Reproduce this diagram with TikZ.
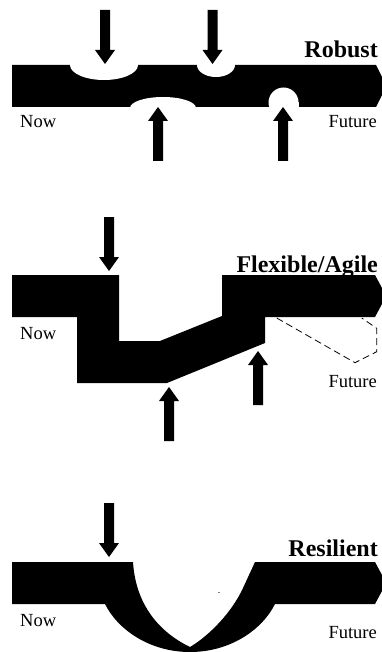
\documentclass[tikz,border=0pt]{standalone}
\usepackage{fontspec}
\setmainfont{Liberation Serif}
\tikzset{
  band/.style={fill=black},
  cut/.style={fill=white},
  title/.style={font=\fontsize{24}{24}\selectfont\bfseries, inner sep=0pt, anchor=base east},
  tag/.style={font=\fontsize{18.5}{18.5}\selectfont, inner sep=0pt},
  future/.style={draw=black, line width=0.8pt, dash pattern=on 7pt off 4pt},
  blockarrow/.pic={
    \fill[black] (0,0) -- (-10,-14) -- (-5,-14) -- (-5,-54) -- (5,-54) -- (5,-14) -- (10,-14) -- cycle;
  }
}
\begin{document}
\begin{tikzpicture}[x=1pt,y=-1pt]
\useasboundingbox (0,0) rectangle (381,652);

% ---------------- Robust ----------------
\fill[band] (12,65) -- (376,65) -- (382,77) -- (382,95) -- (376,107) -- (12,107) -- cycle;
\fill[cut] (104,65) ellipse [x radius=34, y radius=15];
\fill[cut] (216,65) ellipse [x radius=19, y radius=12];
\fill[cut] (163,108) ellipse [x radius=33, y radius=11];
\fill[cut] (283.5,102.5) circle [radius=15];
\fill[cut] (268.5,102.5) rectangle (298.5,108);
\pic at (105,64) {blockarrow};
\pic at (212.5,64) {blockarrow};
\pic[rotate=180] at (158,107) {blockarrow};
\pic[rotate=180] at (283,107) {blockarrow};
\node[title] (robust) at (378,58) {Robust};
\node[tag, anchor=base west] (now1) at (20,128) {Now};
\node[tag, anchor=base east] (fut1) at (377,128) {Future};

% ---------------- Flexible/Agile ----------------
\draw[future] (276.7,318) -- (355,362.7) -- (376.7,351.7) -- (376.7,328.3) -- (361.7,318);
\fill[band] (12,275) -- (119,275) -- (119,341) -- (160,341) -- (222,316) -- (222,275)
  -- (375,275) -- (382,288) -- (382,304) -- (375,317) -- (265,317) -- (265,343)
  -- (167,383) -- (77,383) -- (77,317) -- (12,317) -- cycle;
\pic at (109,271) {blockarrow};
\pic[rotate=180] at (169,387) {blockarrow};
\pic[rotate=180] at (258,351) {blockarrow};
\node[title] (flex) at (378,272) {Flexible/Agile};
\node[tag, anchor=base west] (now2) at (20,339) {Now};
\node[tag, anchor=base east] (fut2) at (377,387) {Future};

% ---------------- Resilient ----------------
\fill[band] (12,562) -- (133,562)
  .. controls (136,610) and (165,635) .. (190,647)
  .. controls (210,635) and (232,612) .. (243,588)
  -- (255,562) -- (375,562) -- (382,575) -- (382,591) -- (375,604) -- (275,604)
  .. controls (262,630) and (230,652) .. (190,652)
  .. controls (150,652) and (118,630) .. (105,604)
  -- (12,604) -- cycle;
\fill[gray] (218,591.6) rectangle (220,592.6);
\pic at (109,557) {blockarrow};
\node[title] (resil) at (378,556) {Resilient};
\node[tag, anchor=base west] (now3) at (20,626) {Now};
\node[tag, anchor=base east] (fut3) at (377,638) {Future};
\end{tikzpicture}
\end{document}
